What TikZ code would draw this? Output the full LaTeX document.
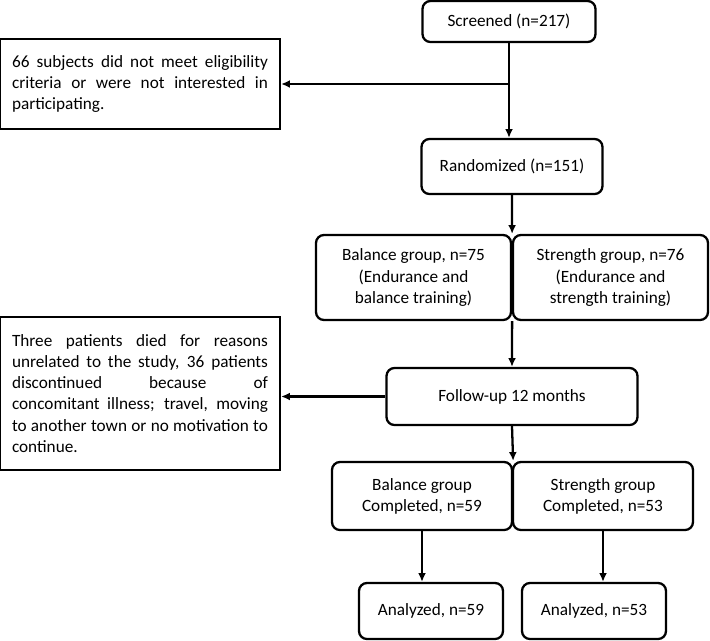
\documentclass[tikz,border=0pt]{standalone}
\usepackage{fontspec}
\setmainfont{Carlito}
\usetikzlibrary{arrows.meta}

\begin{document}
\begin{tikzpicture}[x=0.02cm, y=-0.02cm,
	box/.style={draw, line width=1.3pt, rounded corners=4.5pt, align=center,
		font=\fontsize{9.8}{12}\selectfont},
	note/.style={draw, line width=1.3pt, text width=5.12cm, inner xsep=0.24cm,
		align=justify, font=\fontsize{9.8}{12}\selectfont},
	arr/.style={line width=1.3pt, -{Latex[length=5pt,width=4.5pt]}}]

	\useasboundingbox (0,0) rectangle (710,640);

	\node[box, minimum width=3.46cm, minimum height=0.82cm] (screen) at (509,21.5) {Screened (n=217)};
	\node[note, minimum height=1.8cm] (excl1) at (140,84)
		{66 subjects did not meet eligibility\linebreak criteria or were not interested in\linebreak participating.};
	\node[box, minimum width=3.62cm, minimum height=1.1cm] (rand) at (512,166.5) {Randomized (n=151)};

	\node[box, minimum width=3.9cm, minimum height=1.7cm] (bal1) at (413.5,277.5)
		{Balance group, n=75\\(Endurance and\\balance training)};
	\node[box, minimum width=3.9cm, minimum height=1.7cm] (str1) at (610.5,277.5)
		{Strength group, n=76\\(Endurance and\\strength training)};

	\node[box, minimum width=5.02cm, minimum height=1.14cm] (follow) at (512,396.5) {Follow-up 12 months};
	\node[note, minimum height=3.06cm] (excl2) at (140,393.5)
		{Three patients died for reasons\linebreak unrelated to the study, 36 patients\linebreak discontinued because of\linebreak concomitant illness; travel, moving\linebreak to another town or no motivation to\linebreak continue.};

	\node[box, minimum width=3.6cm, minimum height=1.36cm] (bal2) at (422,496) {Balance group\\Completed, n=59};
	\node[box, minimum width=3.6cm, minimum height=1.36cm] (str2) at (603,496) {Strength group\\Completed, n=53};

	\node[box, minimum width=2.88cm, minimum height=1.12cm] (ana1) at (431,611) {Analyzed, n=59};
	\node[box, minimum width=2.88cm, minimum height=1.12cm] (ana2) at (594,611) {Analyzed, n=53};

	% main line
	\draw[arr] (screen.south) -- (screen.south |- rand.north);
	\foreach \i / \j in {
	rand.south/bal1.north east,
	bal1.south east/follow.north,
	follow.south/bal2.north east}
	{
		\path (\i) edge[arr] (\j);
	};
	\draw[arr] (bal2.south) -- (bal2.south |- ana1.north);
	\draw[arr] (str2.south) -- (str2.south |- ana2.north);

	% exclusions
	\draw[arr] (screen.south |- excl1.east) -- (excl1.east);
	\draw[arr] (follow.west) -- (follow.west -| excl2.east);
\end{tikzpicture}
\end{document}
